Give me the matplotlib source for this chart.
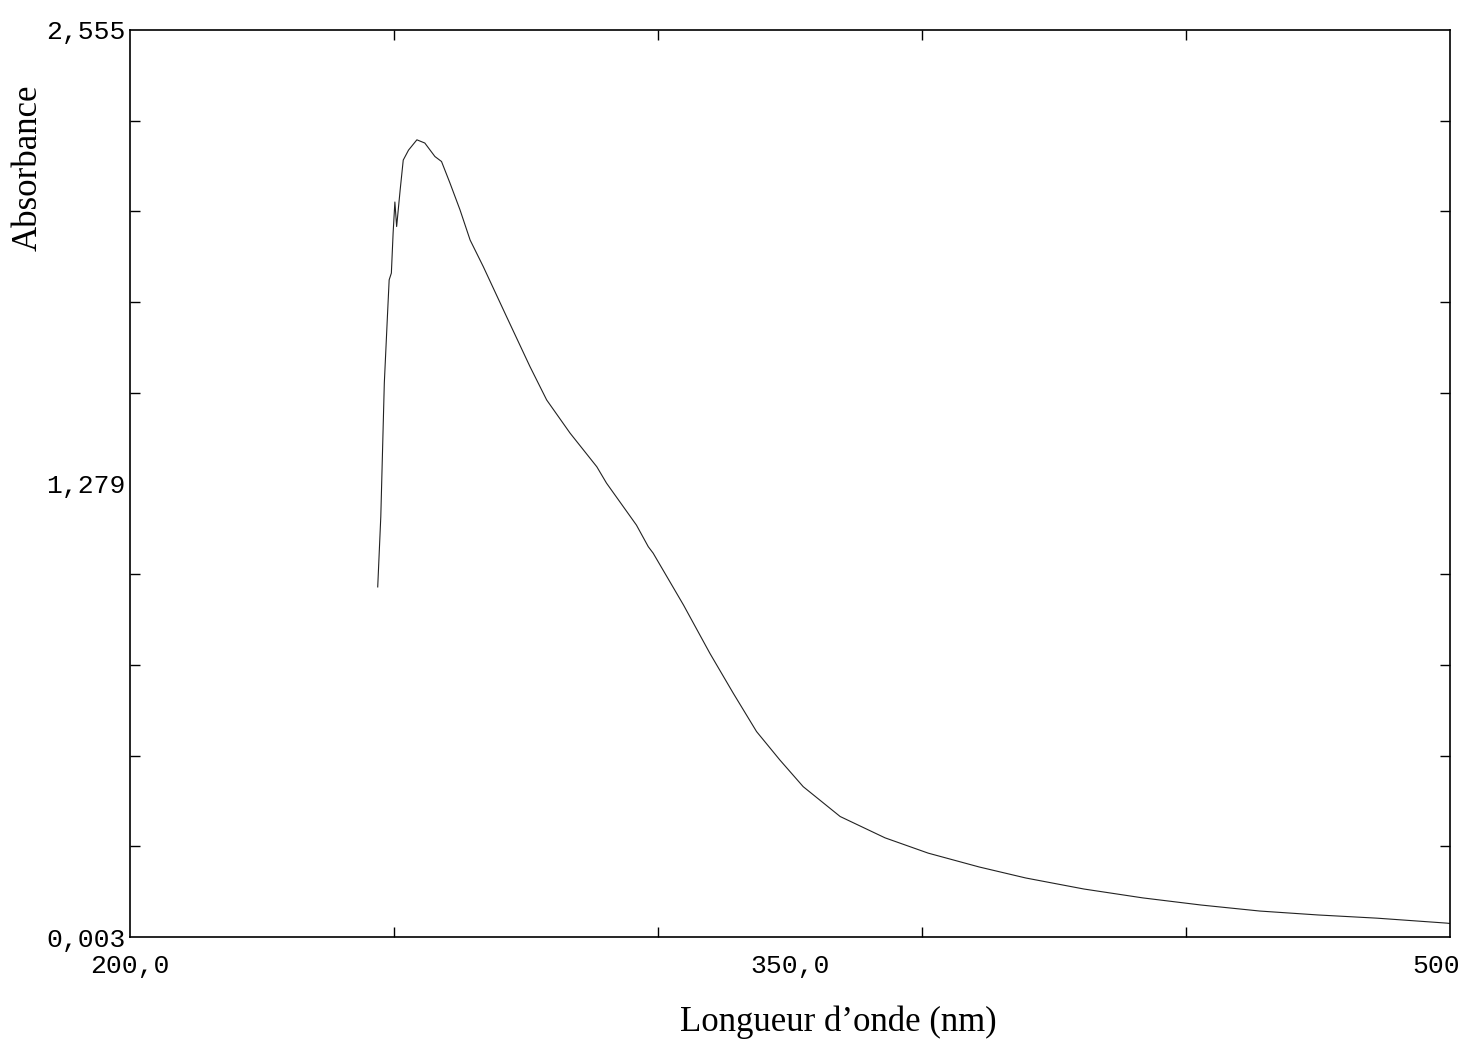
import numpy as np
import matplotlib
matplotlib.use('Agg')
import matplotlib.pyplot as plt
from matplotlib.ticker import FixedLocator
from matplotlib.transforms import ScaledTranslation

# Spectre d'absorbance
longueur_onde = [256.3, 257.0, 257.8, 258.5, 258.9, 259.4, 259.8, 260.2, 260.6,
                 261.4, 262.1, 263.3, 265.2, 267.0, 269.3, 270.8, 272.7, 275.0,
                 277.3, 280.3, 285.6, 290.9, 294.7, 300.0, 306.1, 308.3, 315.1,
                 317.8, 318.9, 325.8, 331.8, 337.1, 342.4, 347.7, 353.0, 361.4,
                 371.6, 381.4, 393.0, 403.6, 416.8, 430.2, 443.4, 456.8, 470.0,
                 483.4, 499.3, 500.0]
absorbance = [0.988, 1.186, 1.562, 1.748, 1.852, 1.871, 1.984, 2.071, 2.002,
              2.105, 2.189, 2.217, 2.246, 2.237, 2.199, 2.185, 2.125, 2.049,
              1.964, 1.889, 1.748, 1.608, 1.514, 1.421, 1.326, 1.280, 1.162,
              1.101, 1.083, 0.937, 0.801, 0.689, 0.581, 0.501, 0.426, 0.342,
              0.282, 0.239, 0.200, 0.169, 0.138, 0.113, 0.093, 0.076, 0.065,
              0.056, 0.042, 0.041]

x_ticks = [200, 350, 500]
x_labels = ['200,0', '350,0', '500']
y_ticks = [0.003, 1.279, 2.555]
y_labels = ['0,003', '1,279', '2,555']
x_minor = [260, 320, 380, 440]
y_minor = [0.003 + k * 0.2552 for k in range(1, 10)]

fig = plt.figure(figsize=(14.64, 10.43), dpi=100)
ax = fig.add_axes([130/1464, 1 - 937/1043, 1320/1464, 907/1043])

ax.plot(longueur_onde, absorbance, color='#222222', linewidth=0.8)

ax.set_xlim(200, 500)
ax.set_ylim(0.003, 2.555)

for s in ax.spines.values():
    s.set_linewidth(1.2)
    s.set_color('black')

mono = 'Liberation Mono'
ax.set_xticks(x_ticks)
ax.set_xticklabels(x_labels, fontfamily=mono, fontsize=19)
ax.set_yticks(y_ticks)
ax.set_yticklabels(y_labels, fontfamily=mono, fontsize=19)
ax.tick_params(axis='both', which='major', length=0)
ax.tick_params(axis='x', which='major', pad=12)
ax.tick_params(axis='y', which='major', pad=3)

# petites graduations vers l'intérieur
ax.xaxis.set_minor_locator(FixedLocator(x_minor))
ax.yaxis.set_minor_locator(FixedLocator(y_minor))
ax.tick_params(which='minor', direction='in', length=7, width=1,
               top=True, right=True, bottom=True, left=True)

lbls = ax.get_xticklabels()
lbls[2].set_ha('right')
lbls[2].set_transform(lbls[2].get_transform() + ScaledTranslation(0.1, 0, fig.dpi_scale_trans))

fig.text(838/1464, 1 - 1022/1043, 'Longueur d\u2019onde (nm)', fontfamily='Liberation Serif',
         fontsize=25, ha='center', va='center')
fig.text(28/1464, 1 - 168/1043, 'Absorbance', fontfamily='Liberation Serif',
         fontsize=25, ha='center', va='center', rotation=90)

fig.savefig('out.png', dpi=100, facecolor='white')
